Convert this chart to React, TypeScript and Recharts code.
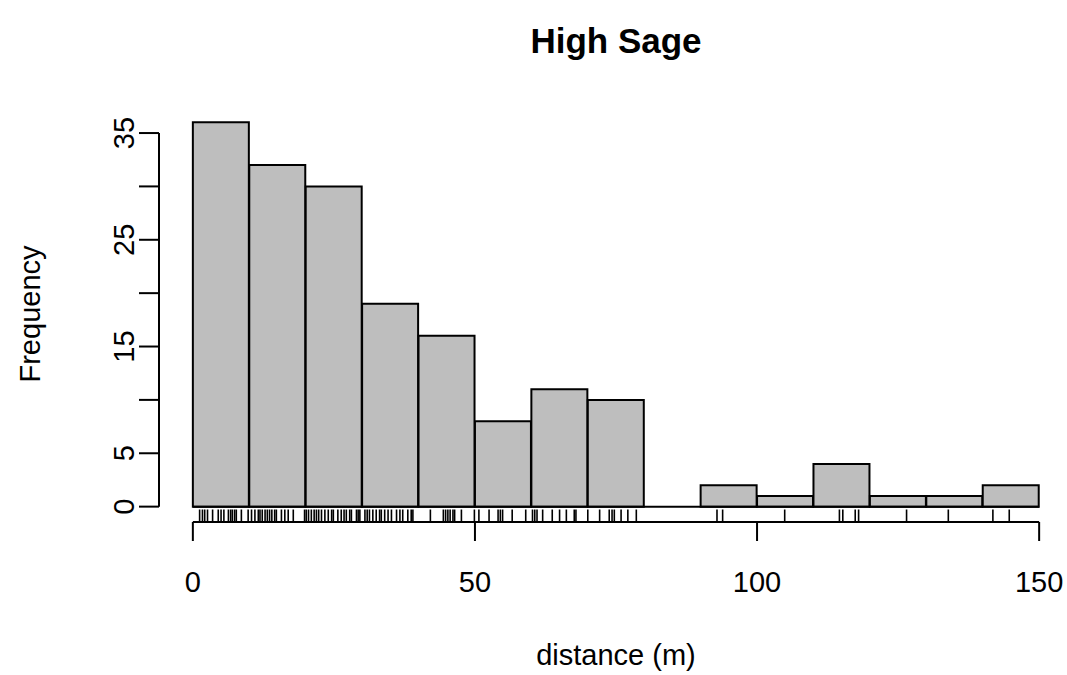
import React from "react";
import { ComposedChart, Bar, Scatter, XAxis, YAxis, ReferenceLine } from "recharts";

// ---- data ----
const binStarts = [0, 10, 20, 30, 40, 50, 60, 70, 80, 90, 100, 110, 120, 130, 140];
const binCounts = [36, 32, 30, 19, 16, 8, 11, 10, 0, 2, 1, 4, 1, 1, 2];
const xTicks = [0, 50, 100, 150];
const yTicks = [0, 5, 10, 15, 20, 25, 30, 35];
const yTickLabels = [0, 5, 15, 25, 35];
const rugValues = [
  1.2, 1.7, 2.1, 2.6, 3.5, 4.5, 5.0, 5.5, 6.3, 6.7, 7.0, 7.4, 7.7, 8.6, 9.8,
  10.4, 11.0, 11.6, 11.9, 12.3, 12.8, 13.2, 13.6, 14.0, 14.5, 14.8, 15.7, 16.3, 16.9, 17.8,
  19.8, 20.1, 20.5, 21.0, 21.5, 21.9, 22.3, 22.8, 23.4, 24.0, 24.6, 24.9, 25.7, 26.3, 26.8,
  27.2, 27.8, 28.1, 29.0, 29.3, 29.6, 30.5, 30.9, 31.3, 31.9, 32.5, 33.1, 33.4, 34.0, 34.6,
  35.2, 36.1, 36.7, 37.2, 38.1, 38.7, 39.0, 42.1, 44.4, 44.8, 45.2, 45.6, 46.1, 46.4, 47.6,
  49.9, 50.7, 52.5, 54.1, 54.5, 54.9, 56.6, 59.0, 60.2, 60.6, 61.0, 62.0, 63.7, 65.0, 66.2,
  67.6, 67.9, 70.0, 72.1, 73.8, 74.3, 74.7, 75.9, 77.1, 78.6, 92.9, 93.9, 104.9, 114.6, 115.2,
  117.4, 118.0, 126.5, 133.9, 141.8, 144.7,
];
const chartTitle = "High Sage";
const xLabel = "distance (m)";
const yLabel = "Frequency";

const BIN_WIDTH = 10;
const X_DOMAIN: [number, number] = [-6, 156];
const Y_DOMAIN: [number, number] = [-1.44, 37.44];

const histData = binStarts.map((s, i) => ({ x: s + BIN_WIDTH / 2, count: binCounts[i] }));
const rugData = rugValues.map((v) => ({ x: v, y: Y_DOMAIN[0] }));

const FONT = "'Liberation Sans', Arial, Helvetica, sans-serif";
const W = 1067;
const H = 675;

const XTick = (props: any) => {
  const { x, y, payload } = props;
  return (
    <text x={x} y={y + 39} textAnchor="middle" dominantBaseline="central" fontFamily={FONT} fontSize={29} fill="#000">
      {payload.value}
    </text>
  );
};

const YTick = (props: any) => {
  const { x, y, payload } = props;
  if (!yTickLabels.includes(payload.value)) return <g />;
  const tx = x - 13;
  return (
    <text x={tx} y={y} transform={`rotate(-90, ${tx}, ${y})`} textAnchor="middle" dominantBaseline="central" fontFamily={FONT} fontSize={29} fill="#000">
      {payload.value}
    </text>
  );
};

const RugMark = (props: any) => {
  const { cx, cy } = props;
  return <line x1={cx} x2={cx} y1={cy} y2={cy - 12.5} stroke="#000" strokeWidth={1.6} />;
};

export default function App() {
  return (
    <div style={{ position: "absolute", left: 0, top: 0, width: W, height: H, background: "#fff" }}>
      <ComposedChart
        width={W}
        height={H}
        data={histData}
        margin={{ top: 107, right: -6, bottom: 53, left: 59 }}
        barCategoryGap={0}
        barGap={0}
      >
        <XAxis
          xAxisId="main"
          type="number"
          dataKey="x"
          domain={X_DOMAIN}
          ticks={xTicks}
          allowDataOverflow
          axisLine={false}
          tickLine={{ stroke: "#000", strokeWidth: 2 }}
          tickSize={19}
          height={100}
          tick={<XTick />}
          interval={0}
        />
        <XAxis xAxisId="rug" type="number" dataKey="x" domain={X_DOMAIN} allowDataOverflow hide />
        <YAxis
          type="number"
          domain={Y_DOMAIN}
          ticks={yTicks}
          allowDataOverflow
          axisLine={false}
          tickLine={{ stroke: "#000", strokeWidth: 2 }}
          tickSize={20}
          width={100}
          tick={<YTick />}
          interval={0}
        />
        <Bar xAxisId="main" dataKey="count" fill="#BEBEBE" stroke="#000" strokeWidth={2} isAnimationActive={false} />
        <ReferenceLine
          xAxisId="main"
          segment={[{ x: 0, y: 0 }, { x: 150, y: 0 }]}
          stroke="#000"
          strokeWidth={2}
          ifOverflow="visible"
        />
        <Scatter xAxisId="rug" data={rugData} dataKey="y" shape={<RugMark />} isAnimationActive={false} />
        <ReferenceLine
          xAxisId="main"
          segment={[{ x: 0, y: Y_DOMAIN[0] }, { x: 150, y: Y_DOMAIN[0] }]}
          stroke="#000"
          strokeWidth={2}
          ifOverflow="visible"
        />
        <ReferenceLine
          xAxisId="main"
          segment={[{ x: X_DOMAIN[0], y: 0 }, { x: X_DOMAIN[0], y: 35 }]}
          stroke="#000"
          strokeWidth={2}
          ifOverflow="visible"
        />
        <text x={616} y={40} textAnchor="middle" dominantBaseline="central" fontFamily={FONT} fontSize={35} fontWeight="bold" fill="#000">
          {chartTitle}
        </text>
        <text x={616} y={655} textAnchor="middle" dominantBaseline="central" fontFamily={FONT} fontSize={29} fill="#000">
          {xLabel}
        </text>
        <text x={30} y={314} transform="rotate(-90, 30, 314)" textAnchor="middle" dominantBaseline="central" fontFamily={FONT} fontSize={29} fill="#000">
          {yLabel}
        </text>
      </ComposedChart>
    </div>
  );
}
